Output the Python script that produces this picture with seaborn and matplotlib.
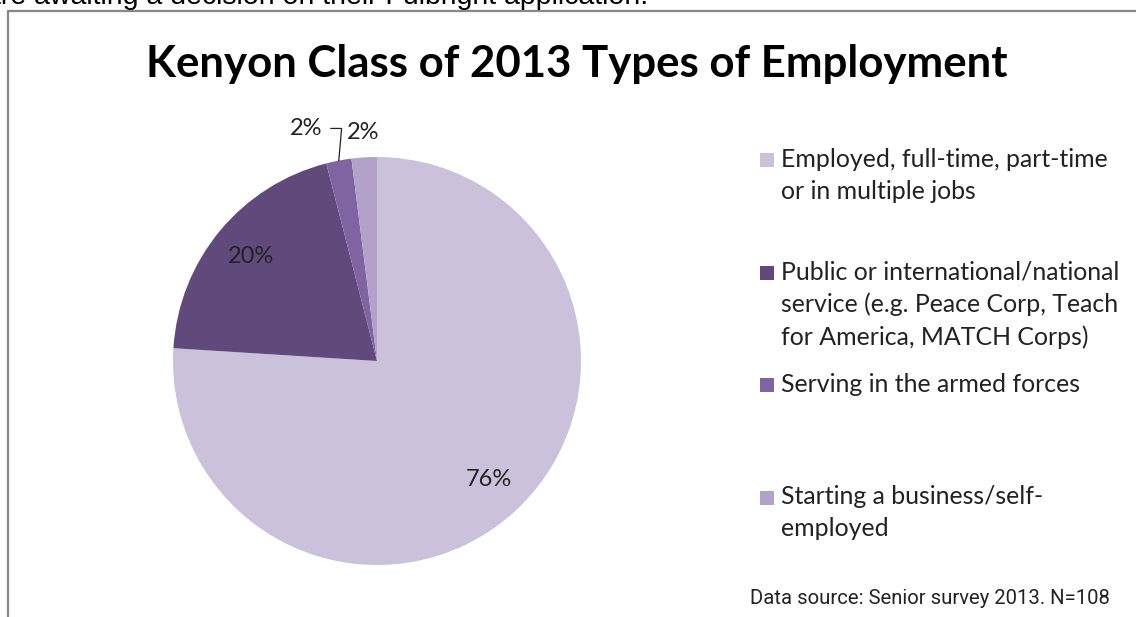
import matplotlib
matplotlib.use("Agg")
import matplotlib.pyplot as plt
import seaborn as sns
import numpy as np
from matplotlib.lines import Line2D
from matplotlib.patches import Rectangle

# ---- data ----
categories = [
    "Employed, full-time, part-time\nor in multiple jobs",
    "Public or international/national\nservice (e.g. Peace Corp, Teach\nfor America, MATCH Corps)",
    "Serving in the armed forces",
    "Starting a business/self-\nemployed",
]
values = [76, 20, 2, 2]
colors = ["#CCC1DA", "#604A7B", "#8064A2", "#B3A2C7"]
title = "Kenyon Class of 2013 Types of Employment"
source_note = "Data source: Senior survey 2013. N=108"
top_text = "are awaiting a decision on their Fulbright application."

sns.set_theme(style="white")
plt.rcParams['font.family'] = ['Lato', 'DejaVu Sans']

W, H = 1136, 617
fig = plt.figure(figsize=(W / 100, H / 100), dpi=100)
fig.patch.set_facecolor("white")

def px(x, y):
    return x / W, 1 - y / H

# border lines (partial frame)
fig.add_artist(Line2D([8 / W, 8 / W], [0, 1 - 11 / H], color="#888888", lw=1.6, transform=fig.transFigure))
fig.add_artist(Line2D([8 / W, 1], [1 - 11 / H, 1 - 11 / H], color="#888888", lw=1.6, transform=fig.transFigure))

# clipped text at the top (continuation of page text above the chart)
fig.text(-15 / W, 1 - 3.5 / H, top_text, fontsize=20.5, family=['Liberation Sans', 'DejaVu Sans'],
         ha='left', va='baseline', color="#000000")

# title
fig.text(*px(577, 64), title, fontsize=31.5, fontweight='bold', ha='center', va='center', color="#000000")

# pie
cx, cy, r = 377, 361, 204
ax = fig.add_axes([(cx - r) / W, (H - cy - r) / H, 2 * r / W, 2 * r / H])
wedges, texts, autotexts = ax.pie(values, colors=colors, startangle=90, counterclock=False,
                                  autopct='%1.0f%%', pctdistance=0.8,
                                  wedgeprops=dict(linewidth=0),
                                  textprops=dict(fontsize=17, color="#222222"))
ax.set_xlim(-1, 1)
ax.set_ylim(-1, 1)
ax.set_aspect('equal')
ax.axis('off')

# small slices: labels outside
w3 = wedges[3]
mid3 = np.deg2rad((w3.theta1 + w3.theta2) / 2)
autotexts[3].set_position((1.12 * np.cos(mid3), 1.12 * np.sin(mid3)))
autotexts[3].set_ha('center')

w2 = wedges[2]
mid2 = np.deg2rad((w2.theta1 + w2.theta2) / 2)
autotexts[2].set_visible(False)
edge = (np.cos(mid2), np.sin(mid2))
lab = (-0.27, 1.14)
ax.annotate(autotexts[2].get_text(), xy=edge, xytext=lab, ha='right', va='center',
            fontsize=17, color="#222222",
            arrowprops=dict(arrowstyle='-', color="#222222", lw=0.9,
                            connectionstyle="angle,angleA=0,angleB=85,rad=0",
                            shrinkA=4, shrinkB=0))

# legend (manual, marker aligned to the first line)
y0, dy = 160, 112.5
for i, (cat, col) in enumerate(zip(categories, colors)):
    yc = y0 + i * dy
    fig.add_artist(Rectangle(px(760, yc + 7), 14 / W, 14 / H, transform=fig.transFigure,
                             facecolor=col, edgecolor='none'))
    fig.text(*px(781, yc - 12), cat, fontsize=17.9, ha='left', va='top', color="#222222",
             linespacing=1.47, transform=fig.transFigure)

fig.text(*px(1110, 598), source_note, fontsize=14.6, ha='right', va='center',
         family=['Roboto', 'Liberation Sans', 'DejaVu Sans'], color="#222222")

fig.savefig("out.png", dpi=100)
